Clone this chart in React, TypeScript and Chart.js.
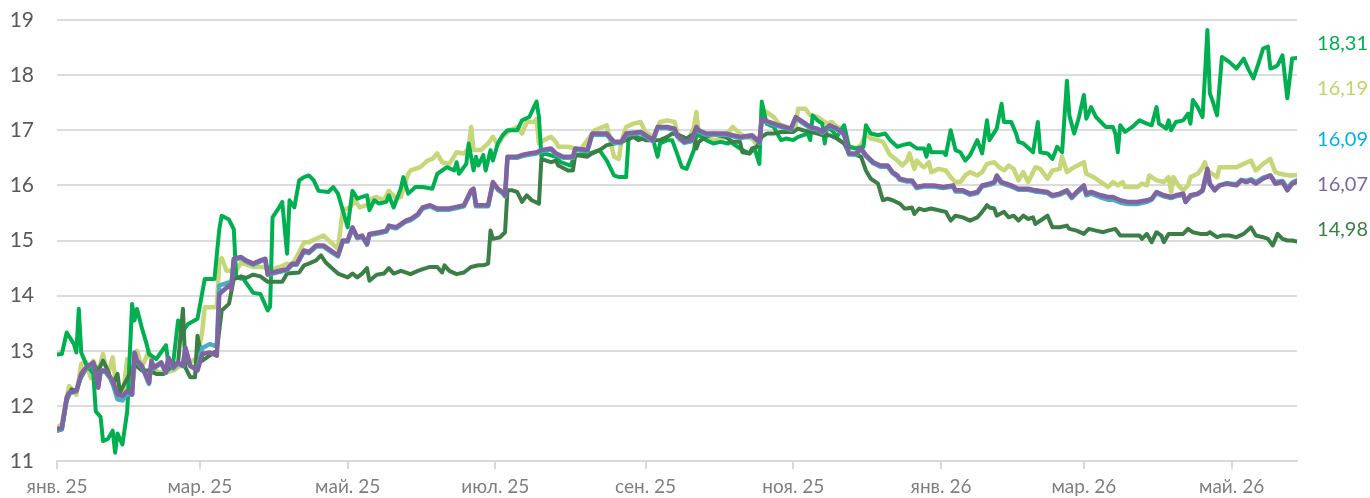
import React, { useEffect, useRef } from "react";
import { Chart, registerables } from "chart.js";

Chart.register(...registerables);

// x values are days since 1 Jan 2025
const monthTickDays = [0, 59, 120, 181, 243, 304, 365, 424, 485];
const monthTickLabels = ["янв. 25", "мар. 25", "май. 25", "июл. 25", "сен. 25", "ноя. 25", "янв. 26", "мар. 26", "май. 26"];
const yTicks = [11, 12, 13, 14, 15, 16, 17, 18, 19];
const lastDay = 512;

const brightGreen: [number, number][] = [
  [0,12.93],[2,12.94],[4,13.33],[7,13.12],[8,12.97],[9,13.76],[10,12.97],[12,12.76],[15,12.58],[16,11.9],
  [18,11.8],[19,11.36],[21,11.4],[23,11.55],[24,11.15],[25,11.5],[27,11.3],[29,11.9],[31,13.85],[32,13.55],
  [33,13.76],[35,13.42],[37,13.12],[38,12.94],[41,12.85],[45,13.1],[46,12.76],[48,12.79],[50,13.55],[52,13.36],
  [54,13.48],[58,13.58],[61,14.3],[65,14.3],[67,15.2],[68,15.45],[71,15.38],[73,15.2],[74,14.33],[77,14.3],
  [81,14.05],[84,14.03],[87,13.73],[88,13.8],[89,15.42],[91,15.55],[93,15.7],[95,14.76],[96,15.73],[98,15.6],
  [100,16.09],[102,16.15],[104,16.18],[106,16.09],[108,15.9],[112,15.88],[114,15.97],[116,15.85],[118,15.55],[120,15.24],
  [122,15.9],[124,15.76],[126,15.79],[128,15.82],[129,15.55],[131,15.73],[133,15.67],[136,15.7],[137,15.82],[139,15.6],
  [142,15.95],[143,16.15],[145,15.85],[148,15.97],[151,15.97],[155,15.94],[157,16.21],[159,16.27],[161,16.33],[164,16.27],
  [165,16.42],[166,16.21],[169,16.39],[170,16.76],[172,16.27],[173,16.52],[174,16.36],[176,16.55],[177,16.27],[179,16.64],
  [180,16.45],[182,16.76],[184,16.91],[186,17.0],[190,17.0],[192,17.18],[195,17.24],[198,17.52],[199,17.24],[200,16.52],
  [201,16.58],[206,16.52],[208,16.42],[212,16.36],[214,16.55],[220,16.58],[224,16.64],[227,16.45],[230,16.18],[232,16.15],
  [235,16.15],[236,16.85],[238,16.91],[241,16.85],[244,16.88],[246,16.85],[248,16.52],[249,16.76],[252,16.82],[254,16.82],
  [256,16.58],[258,16.33],[260,16.3],[263,16.64],[264,16.94],[266,16.88],[268,16.82],[271,16.76],[274,16.79],[277,16.76],
  [278,16.79],[283,16.64],[286,16.58],[288,16.67],[290,16.39],[291,17.52],[293,17.12],[296,17.06],[297,16.97],[299,16.82],
  [301,16.85],[304,16.82],[306,16.88],[310,16.94],[311,16.82],[312,17.27],[314,17.18],[316,17.12],[317,16.76],[318,17.06],
  [320,17.0],[322,16.88],[325,17.09],[327,16.7],[330,16.67],[333,16.7],[334,17.09],[336,16.94],[339,16.91],[342,16.94],
  [344,16.82],[347,16.7],[349,16.73],[352,16.76],[353,16.73],[355,16.67],[358,16.67],[359,16.52],[360,16.73],[361,16.6],
  [366,16.6],[367,16.55],[369,17.0],[371,16.64],[373,16.6],[375,16.45],[377,16.55],[380,16.82],[382,16.58],[384,17.18],
  [385,16.82],[388,17.03],[390,17.48],[391,17.15],[394,17.15],[396,16.94],[397,16.79],[399,16.76],[402,16.64],[403,16.6],
  [405,17.15],[406,16.6],[409,16.58],[411,16.48],[413,16.7],[415,16.6],[417,17.9],[418,17.27],[420,16.94],[422,17.24],
  [424,17.64],[425,17.21],[427,17.42],[429,17.24],[433,17.06],[436,17.06],[437,16.94],[438,16.6],[439,17.09],[441,16.97],
  [444,17.06],[447,17.18],[450,17.12],[452,17.09],[454,17.42],[455,17.12],[458,17.03],[459,17.18],[460,17.0],[462,17.15],
  [465,17.18],[467,17.3],[468,17.12],[469,17.55],[471,17.42],[473,17.24],[474,18.0],[475,18.82],[476,17.67],[477,17.55],
  [479,17.27],[481,18.33],[484,18.24],[487,18.12],[490,18.3],[492,18.1],[494,17.94],[496,18.2],[498,18.48],[500,18.52],
  [501,18.12],[503,18.15],[504,18.18],[506,18.36],[508,17.58],[510,18.3],[512,18.31],
];

const lightGreen: [number, number][] = [
  [0,11.6],[2,11.67],[4,12.15],[5,12.36],[8,12.2],[10,12.76],[12,12.79],[14,12.5],[15,12.82],[17,12.6],
  [19,12.94],[21,12.55],[23,12.88],[25,12.15],[27,12.1],[29,12.85],[31,12.33],[33,13.0],[35,12.7],[38,13.0],
  [40,12.64],[44,12.6],[48,12.64],[52,12.76],[55,12.79],[58,12.88],[60,13.36],[61,13.79],[66,13.79],[67,14.64],
  [68,14.68],[70,14.45],[74,14.45],[76,14.6],[81,14.52],[87,14.52],[89,14.48],[92,14.52],[95,14.58],[97,14.55],
  [100,14.79],[102,14.97],[104,14.97],[107,15.03],[110,15.09],[113,14.97],[116,14.85],[118,15.55],[121,15.6],[123,15.73],
  [125,15.6],[128,15.64],[130,15.76],[132,15.79],[135,15.73],[137,15.9],[140,15.76],[142,15.79],[145,16.21],[146,16.27],
  [150,16.33],[153,16.45],[155,16.48],[157,16.58],[159,16.42],[162,16.39],[165,16.6],[168,16.58],[170,16.67],[171,17.06],
  [172,16.64],[175,16.64],[178,16.76],[180,16.88],[182,16.73],[184,16.88],[187,17.0],[190,17.06],[192,16.94],[194,17.15],
  [197,17.15],[198,17.2],[199,16.76],[201,16.82],[204,16.88],[206,16.79],[207,16.7],[211,16.7],[214,16.67],[216,16.64],
  [221,16.94],[222,17.0],[227,17.09],[230,16.52],[232,16.48],[233,16.79],[235,17.06],[238,17.12],[241,17.15],[243,16.97],
  [246,16.88],[249,17.15],[252,17.18],[255,17.15],[257,16.82],[261,16.85],[263,17.06],[264,17.33],[265,16.94],[268,16.88],
  [271,16.82],[275,16.85],[279,17.06],[282,16.94],[284,16.88],[287,16.85],[290,16.67],[291,17.39],[293,17.33],[296,17.24],
  [298,17.12],[301,17.06],[303,17.03],[305,17.09],[306,17.39],[309,17.39],[311,17.27],[314,17.24],[316,17.18],[318,17.12],
  [320,17.15],[322,17.06],[325,17.03],[327,16.7],[330,16.67],[332,16.73],[334,16.94],[336,16.85],[339,16.82],[341,16.79],
  [344,16.55],[347,16.45],[349,16.36],[351,16.45],[352,16.58],[354,16.3],[355,16.45],[357,16.36],[358,16.33],[360,16.42],
  [361,16.24],[364,16.3],[367,16.27],[369,16.15],[371,16.06],[373,16.06],[375,16.18],[377,16.24],[380,16.18],[382,16.24],
  [384,16.39],[387,16.42],[389,16.33],[391,16.27],[393,16.36],[395,16.3],[397,16.09],[399,16.24],[401,16.06],[404,16.33],
  [406,16.3],[409,16.12],[411,16.27],[414,16.3],[415,16.52],[417,16.24],[420,16.33],[424,16.42],[425,16.21],[428,16.15],
  [431,16.06],[434,15.97],[436,16.06],[438,16.0],[440,16.06],[441,15.97],[446,15.97],[448,16.03],[450,16.0],[451,16.18],
  [453,16.12],[454,16.09],[457,16.06],[459,16.15],[460,15.88],[461,16.15],[463,16.0],[465,15.91],[467,16.0],[468,16.15],
  [471,16.21],[473,16.33],[474,16.42],[475,16.27],[479,16.15],[480,16.33],[487,16.33],[490,16.39],[493,16.45],[495,16.27],
  [498,16.39],[501,16.48],[503,16.24],[505,16.21],[509,16.18],[512,16.19],
];

const purpleLine: [number, number][] = [
  [0,11.58],[2,11.6],[4,12.15],[5,12.24],[8,12.27],[10,12.58],[12,12.7],[15,12.79],[17,12.33],[18,12.64],
  [20,12.64],[22,12.52],[23,12.45],[25,12.21],[27,12.18],[29,12.27],[31,12.21],[32,12.97],[33,12.82],[35,12.73],
  [38,12.42],[39,12.82],[40,12.7],[43,12.79],[45,12.61],[46,12.88],[48,12.7],[50,12.79],[52,12.73],[53,13.06],
  [55,12.73],[58,12.64],[60,12.94],[63,12.97],[66,12.91],[67,14.03],[71,14.18],[72,14.12],[73,14.67],[76,14.7],
  [78,14.64],[81,14.58],[84,14.64],[86,14.67],[87,14.39],[89,14.42],[92,14.45],[95,14.48],[97,14.58],[99,14.58],
  [102,14.82],[104,14.79],[107,14.91],[110,14.91],[113,14.82],[116,14.73],[118,15.0],[120,15.0],[122,15.24],[124,15.06],
  [126,15.09],[128,14.94],[129,15.12],[133,15.15],[136,15.18],[137,15.27],[140,15.24],[144,15.36],[146,15.39],[149,15.48],
  [151,15.6],[154,15.64],[157,15.58],[159,15.58],[162,15.58],[165,15.61],[168,15.64],[171,15.91],[172,15.94],[173,15.64],
  [176,15.64],[178,15.64],[180,16.06],[182,15.94],[184,15.88],[185,15.82],[186,16.52],[190,16.52],[192,16.55],[195,16.58],
  [198,16.6],[200,16.64],[204,16.67],[206,16.58],[209,16.52],[211,16.52],[213,16.52],[214,16.67],[219,16.64],[221,16.94],
  [227,16.94],[230,16.79],[233,16.79],[235,16.94],[241,16.97],[243,16.91],[246,16.82],[248,17.06],[252,17.06],[255,17.03],
  [256,16.91],[259,16.79],[262,16.82],[264,17.06],[265,17.0],[268,16.94],[276,16.94],[282,16.88],[287,16.91],[290,16.79],
  [291,17.21],[294,17.15],[298,17.09],[303,17.03],[305,17.24],[308,17.15],[311,17.06],[314,17.03],[316,16.97],[319,17.09],
  [322,17.03],[325,16.94],[327,16.58],[330,16.58],[332,16.67],[334,16.55],[337,16.42],[340,16.36],[343,16.36],[345,16.24],
  [347,16.18],[348,16.12],[351,16.09],[353,16.09],[355,15.97],[358,16.0],[362,16.0],[366,15.97],[370,16.0],[371,15.91],
  [374,15.91],[377,15.85],[380,15.88],[382,16.0],[385,16.03],[387,16.06],[388,16.18],[390,16.06],[392,16.03],[394,16.0],
  [397,15.94],[401,15.94],[404,15.91],[409,15.88],[411,15.82],[414,15.85],[417,15.91],[419,15.79],[421,15.88],[424,16.0],
  [425,15.85],[427,15.88],[431,15.82],[434,15.79],[436,15.79],[439,15.73],[442,15.7],[446,15.7],[450,15.73],[452,15.76],
  [454,15.88],[457,15.82],[460,15.79],[462,15.82],[465,15.85],[466,15.7],[468,15.82],[471,15.85],[473,15.91],[475,16.3],
  [476,16.03],[478,15.91],[480,16.0],[483,16.03],[487,16.0],[489,16.09],[491,16.06],[493,16.09],[495,16.03],[498,16.12],
  [501,16.18],[503,16.03],[506,16.06],[508,15.91],[510,16.03],[512,16.07],
];

const blueLine: [number, number][] = [
  [0,11.55],[2,11.58],[4,12.12],[5,12.22],[8,12.27],[10,12.56],[12,12.68],[15,12.77],[17,12.35],[18,12.62],
  [20,12.62],[22,12.5],[23,12.4],[25,12.12],[27,12.1],[29,12.22],[31,12.2],[32,12.95],[33,12.8],[35,12.71],
  [38,12.4],[39,12.8],[40,12.68],[43,12.77],[45,12.6],[46,12.86],[48,12.68],[50,12.77],[52,12.72],[53,13.04],
  [55,12.72],[58,12.66],[60,13.05],[63,13.12],[66,13.08],[67,14.18],[71,14.24],[72,14.22],[73,14.65],[76,14.68],
  [78,14.62],[81,14.56],[84,14.62],[86,14.65],[87,14.38],[89,14.4],[92,14.43],[95,14.46],[97,14.56],[99,14.56],
  [102,14.8],[104,14.77],[107,14.89],[110,14.89],[113,14.8],[116,14.71],[118,14.98],[120,14.98],[122,15.22],[124,15.04],
  [126,15.07],[128,14.92],[129,15.1],[133,15.13],[136,15.16],[137,15.25],[140,15.22],[144,15.34],[146,15.37],[149,15.46],
  [151,15.58],[154,15.62],[157,15.56],[159,15.56],[162,15.56],[165,15.59],[168,15.62],[171,15.89],[172,15.92],[173,15.62],
  [176,15.62],[178,15.62],[180,16.04],[182,15.92],[184,15.86],[185,15.8],[186,16.5],[190,16.5],[192,16.53],[195,16.56],
  [198,16.58],[200,16.62],[204,16.65],[206,16.56],[209,16.5],[211,16.5],[213,16.5],[214,16.65],[219,16.62],[221,16.92],
  [227,16.92],[230,16.77],[233,16.77],[235,16.92],[241,16.95],[243,16.89],[246,16.8],[248,17.04],[252,17.04],[255,17.01],
  [256,16.89],[259,16.77],[262,16.8],[264,17.04],[265,16.98],[268,16.92],[276,16.92],[282,16.86],[287,16.89],[290,16.77],
  [291,17.19],[294,17.13],[298,17.07],[303,17.01],[305,17.22],[308,17.13],[311,17.04],[314,17.01],[316,16.95],[319,17.07],
  [322,17.01],[325,16.92],[327,16.56],[330,16.56],[332,16.65],[334,16.53],[337,16.4],[340,16.34],[343,16.34],[345,16.22],
  [347,16.16],[348,16.1],[351,16.07],[353,16.07],[355,15.95],[358,15.98],[362,15.98],[366,15.95],[370,15.98],[371,15.89],
  [374,15.89],[377,15.83],[380,15.86],[382,15.98],[385,16.01],[387,16.04],[388,16.14],[390,16.04],[392,16.01],[394,15.98],
  [397,15.92],[401,15.92],[404,15.89],[409,15.86],[411,15.8],[414,15.83],[417,15.89],[419,15.77],[421,15.86],[424,15.97],
  [425,15.82],[427,15.85],[431,15.78],[434,15.74],[436,15.74],[439,15.69],[442,15.66],[446,15.66],[450,15.7],[452,15.74],
  [454,15.86],[457,15.8],[460,15.77],[462,15.8],[465,15.83],[466,15.7],[468,15.8],[471,15.84],[473,15.9],[475,16.22],
  [476,16.02],[478,15.92],[480,16.0],[483,16.04],[487,16.02],[489,16.1],[491,16.08],[493,16.11],[495,16.06],[498,16.14],
  [501,16.18],[503,16.06],[506,16.08],[508,15.95],[510,16.05],[512,16.09],
];

const darkGreen: [number, number][] = [
  [0,11.55],[2,11.57],[4,12.09],[6,12.3],[8,12.27],[10,12.52],[12,12.67],[15,12.76],[17,12.64],[19,12.82],
  [21,12.64],[23,12.39],[25,12.58],[26,12.24],[27,12.33],[30,12.58],[32,12.76],[35,12.64],[38,12.64],[41,12.58],
  [44,12.58],[47,12.7],[50,12.79],[52,13.76],[53,12.7],[55,12.52],[57,12.52],[58,13.27],[60,12.82],[63,12.91],
  [66,13.0],[68,13.73],[71,13.85],[73,14.3],[76,14.35],[78,14.32],[81,14.38],[84,14.35],[87,14.25],[93,14.25],
  [95,14.4],[100,14.42],[102,14.55],[104,14.58],[107,14.64],[109,14.73],[111,14.6],[113,14.52],[116,14.4],[120,14.33],
  [122,14.4],[124,14.33],[126,14.4],[128,14.5],[129,14.27],[132,14.38],[135,14.4],[137,14.5],[139,14.4],[142,14.45],
  [146,14.39],[149,14.45],[151,14.48],[154,14.52],[157,14.52],[159,14.42],[160,14.55],[162,14.45],[165,14.39],[168,14.42],
  [171,14.52],[174,14.55],[176,14.55],[178,14.58],[179,15.18],[180,15.03],[183,15.06],[185,15.15],[186,15.91],[188,15.91],
  [190,15.88],[192,15.7],[194,15.82],[196,15.73],[199,15.67],[200,16.48],[202,16.45],[204,16.42],[206,16.45],[207,16.36],
  [211,16.27],[213,16.27],[214,16.55],[219,16.52],[221,16.58],[224,16.64],[227,16.73],[230,16.76],[233,16.79],[235,16.82],
  [238,16.88],[240,16.82],[242,16.85],[243,16.82],[246,16.82],[249,16.82],[252,16.88],[254,16.94],[257,16.91],[260,16.85],
  [263,16.94],[264,16.67],[265,16.79],[268,16.88],[271,16.94],[273,16.91],[276,16.88],[279,16.79],[282,16.79],[283,16.6],
  [286,16.58],[287,16.67],[289,16.7],[291,16.88],[293,16.94],[296,16.94],[299,16.97],[302,16.97],[304,16.97],[306,17.03],
  [308,17.0],[311,16.97],[314,16.94],[316,16.91],[319,16.91],[322,16.85],[325,16.76],[327,16.58],[330,16.55],[332,16.52],
  [334,16.27],[336,16.12],[339,16.03],[341,15.73],[343,15.76],[345,15.73],[348,15.67],[350,15.58],[351,15.58],[353,15.6],
  [354,15.48],[356,15.58],[358,15.55],[361,15.58],[364,15.55],[367,15.52],[369,15.36],[371,15.45],[374,15.42],[377,15.36],
  [380,15.42],[382,15.52],[384,15.64],[385,15.6],[387,15.58],[388,15.45],[391,15.52],[393,15.42],[395,15.45],[397,15.36],
  [399,15.45],[401,15.39],[403,15.42],[404,15.3],[407,15.39],[409,15.45],[411,15.24],[414,15.24],[417,15.27],[418,15.21],
  [421,15.18],[424,15.12],[426,15.21],[429,15.18],[432,15.15],[434,15.18],[437,15.21],[439,15.09],[443,15.09],[447,15.09],
  [448,15.03],[450,15.12],[452,14.97],[454,15.15],[456,15.09],[457,14.97],[459,15.12],[462,15.12],[465,15.12],[467,15.21],
  [469,15.15],[472,15.12],[475,15.12],[476,15.15],[479,15.06],[481,15.09],[484,15.09],[487,15.06],[490,15.12],[493,15.24],
  [495,15.09],[498,15.06],[500,15.03],[502,14.91],[504,15.12],[506,15.03],[508,15.0],[510,15.0],[512,14.98],
];

const lineColors = ["#8064a2", "#4bacc6", "#3b7f46", "#00b050", "#c8d67a"];
const endLabelColors = ["#8064a2", "#00b0f0", "#3b7f46", "#00b050", "#c3d36b"];
// vertical anchor (in axis units) of the value labels at the right edge
const endLabelAnchors = [16.02, 16.84, 15.19, 18.57, 17.75];
const allSeries = [purpleLine, blueLine, darkGreen, brightGreen, lightGreen];
const seriesNames = ["Серия 4", "Серия 3", "Серия 5", "Серия 1", "Серия 2"];
const lineWidths = [4.5, 4.5, 4, 4, 4.5];

const endLabelsPlugin = {
  id: "endLabels",
  afterDatasetsDraw(chart: any) {
    const ctx = chart.ctx;
    const yScale = chart.scales.y;
    ctx.save();
    ctx.font = "20px Lato";
    ctx.textAlign = "right";
    ctx.textBaseline = "middle";
    allSeries.forEach((s, i) => {
      const last = s[s.length - 1][1];
      ctx.fillStyle = endLabelColors[i];
      ctx.fillText(last.toFixed(2).replace(".", ","), chart.width - 2, yScale.getPixelForValue(endLabelAnchors[i]));
    });
    ctx.restore();
  },
};

export default function App() {
  const ref = useRef<HTMLCanvasElement | null>(null);
  useEffect(() => {
    if (!ref.current) return;
    const chart = new Chart(ref.current, {
      type: "line",
      data: {
        datasets: allSeries.map((s, i) => ({
          label: seriesNames[i],
          data: s.map(([d, v]) => ({ x: d, y: v })),
          borderColor: lineColors[i],
          backgroundColor: lineColors[i],
          borderWidth: lineWidths[i],
          pointRadius: 0,
          tension: 0,
          borderJoinStyle: "round" as const,
          borderCapStyle: "round" as const,
          order: i,
        })),
      },
      options: {
        animation: false,
        responsive: true,
        maintainAspectRatio: false,
        layout: { padding: { left: 0, right: 73, top: 20, bottom: 0 } },
        plugins: { legend: { display: false }, tooltip: { enabled: false } },
        scales: {
          x: {
            type: "linear",
            min: 0,
            max: lastDay,
            afterBuildTicks: (scale: any) => {
              scale.ticks = monthTickDays.map((v) => ({ value: v }));
            },
            afterFit: (scale: any) => {
              scale.height = 37;
              scale.paddingLeft = 0;
              scale.paddingRight = 0;
            },
            ticks: {
              autoSkip: false,
              maxRotation: 0,
              padding: 6,
              color: "#7f7f7f",
              font: { family: "Lato", size: 19 },
              callback: (value: any) => {
                const idx = monthTickDays.indexOf(Number(value));
                return idx >= 0 ? monthTickLabels[idx] : "";
              },
            },
            grid: {
              drawOnChartArea: false,
              drawTicks: true,
              tickLength: 8,
              color: "#d9d9d9",
              lineWidth: 2,
            },
            border: { display: true, color: "#d9d9d9", width: 2 },
          },
          y: {
            min: yTicks[0],
            max: yTicks[yTicks.length - 1],
            afterBuildTicks: (scale: any) => {
              scale.ticks = yTicks.map((v) => ({ value: v }));
            },
            afterFit: (scale: any) => {
              scale.width = 57;
              scale.paddingTop = 0;
              scale.paddingBottom = 0;
            },
            ticks: {
              padding: 23,
              color: "#595959",
              font: { family: "Lato", size: 21 },
            },
            grid: { drawTicks: false, color: "#dcdcdc", lineWidth: 2 },
            border: { display: false },
          },
        },
      },
      plugins: [endLabelsPlugin],
    });
    return () => chart.destroy();
  }, []);
  return (
    <div style={{ position: "fixed", left: 0, top: 0, width: 1370, height: 498, background: "#fff" }}>
      <canvas ref={ref} />
    </div>
  );
}
